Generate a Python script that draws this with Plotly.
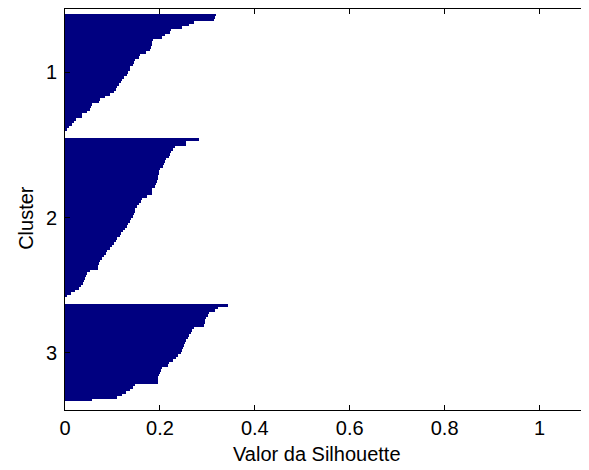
import plotly.graph_objects as go

# Silhouette values per cluster (sorted descending, one per point)
cluster_names = ["1", "2", "3"]
sil_c1 = [0.319, 0.317, 0.315, 0.271, 0.262, 0.247, 0.223, 0.222, 0.210, 0.205,
          0.186, 0.184, 0.183, 0.181, 0.179, 0.170, 0.159, 0.155, 0.147, 0.145,
          0.143, 0.138, 0.136, 0.132, 0.131, 0.124, 0.121, 0.117, 0.114, 0.109,
          0.108, 0.103, 0.094, 0.084, 0.073, 0.071, 0.057, 0.055, 0.052, 0.047,
          0.036, 0.035, 0.024, 0.020, 0.014, 0.008, 0.004]
sil_c2 = [0.283, 0.256, 0.255, 0.231, 0.228, 0.223, 0.221, 0.219, 0.212, 0.211,
          0.208, 0.207, 0.200, 0.199, 0.198, 0.197, 0.196, 0.194, 0.191, 0.189,
          0.184, 0.183, 0.183, 0.172, 0.163, 0.160, 0.155, 0.151, 0.148, 0.147,
          0.146, 0.144, 0.140, 0.137, 0.133, 0.130, 0.126, 0.123, 0.119, 0.116,
          0.110, 0.107, 0.103, 0.100, 0.095, 0.089, 0.086, 0.083, 0.079, 0.074,
          0.071, 0.070, 0.069, 0.052, 0.047, 0.045, 0.042, 0.041, 0.037, 0.033,
          0.029, 0.021, 0.012, 0.005]
sil_c3 = [0.343, 0.323, 0.316, 0.303, 0.302, 0.297, 0.296, 0.294, 0.292, 0.272,
          0.267, 0.265, 0.261, 0.260, 0.254, 0.253, 0.251, 0.248, 0.246, 0.244,
          0.238, 0.233, 0.228, 0.219, 0.217, 0.205, 0.202, 0.200, 0.199, 0.197,
          0.196, 0.195, 0.147, 0.144, 0.137, 0.129, 0.121, 0.110, 0.057]
x_ticks = [0, 0.2, 0.4, 0.6, 0.8, 1]
x_tick_labels = ["0", "0.2", "0.4", "0.6", "0.8", "1"]

clusters = [sil_c1, sil_c2, sil_c3]
lead = 2
space = 3
ys, xs, centers = [], [], []
row = lead + 1
for vals in clusters:
    rows = list(range(row, row + len(vals)))
    ys += rows
    xs += vals
    centers.append((rows[0] + rows[-1]) / 2)
    row += len(vals) + space

FONT = "Liberation Sans, Arial, sans-serif"
fig = go.Figure(go.Bar(
    x=xs, y=ys, orientation="h", width=1.0,
    marker=dict(color="#000080", line=dict(width=0)),
    hoverinfo="skip",
))

fig.update_layout(
    width=581, height=462,
    margin=dict(l=57, r=2, t=1, b=60),
    paper_bgcolor="white", plot_bgcolor="white",
    showlegend=False, bargap=0,
    font=dict(family=FONT, size=20, color="black"),
    annotations=[
        dict(text="Valor da Silhouette", xref="paper", yref="paper",
             x=0.482, y=-0.109, xanchor="center", yanchor="middle",
             showarrow=False, font=dict(family=FONT, size=20, color="black")),
        dict(text="Cluster", xref="paper", yref="paper", textangle=-90,
             x=-0.076, y=0.48, xanchor="center", yanchor="middle",
             showarrow=False, font=dict(family=FONT, size=20, color="black")),
    ],
)
fig.update_xaxes(
    range=[0, 1.1], tickvals=x_ticks, ticktext=x_tick_labels,
    ticks="inside", ticklen=5, tickcolor="black", tickwidth=1,
    showline=True, linecolor="black", linewidth=1, mirror="ticks",
    showgrid=False, zeroline=False,
    tickfont=dict(family=FONT, size=20, color="black"),
)
fig.update_yaxes(
    range=[162, 0.5], tickvals=centers, ticktext=cluster_names,
    ticks="inside", ticklen=5, tickcolor="black", tickwidth=1,
    showline=True, linecolor="black", linewidth=1, mirror="ticks",
    showgrid=False, zeroline=False, ticklabelstandoff=3,
    tickfont=dict(family=FONT, size=20, color="black"),
)

fig.write_html("out.html")
